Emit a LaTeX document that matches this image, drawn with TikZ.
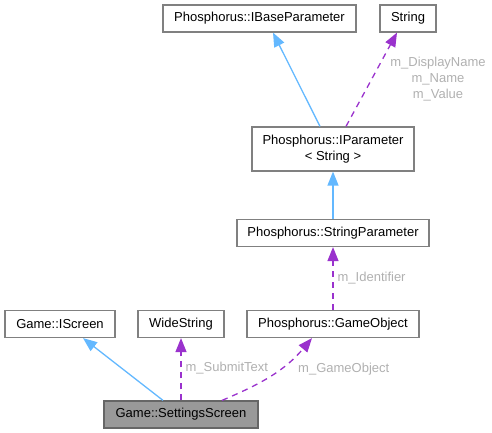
\documentclass[tikz,border=0pt]{standalone}
\usepackage{fontspec}
\setmainfont{Liberation Sans}
\usepackage{xcolor}
\usetikzlibrary{arrows.meta}
\definecolor{inhblue}{HTML}{63B8FF}
\definecolor{usepurple}{HTML}{9A32CD}
\definecolor{lblgray}{HTML}{B0B0B0}
\definecolor{boxline}{HTML}{808080}
\definecolor{curfill}{HTML}{999999}
\tikzset{cls/.style={rectangle,draw=boxline,fill=white,line width=1.2pt,inner sep=0pt,minimum height=27pt,align=center,font=\fontsize{13}{16}\selectfont}}
\tikzset{cur/.style={cls,fill=curfill,draw=black!60}}
\tikzset{inh/.style={inhblue,line width=1.3pt,-{Triangle[length=14pt,width=11pt]}}}
\tikzset{usg/.style={usepurple,line width=1.3pt,dash pattern=on 6pt off 5pt,-{Triangle[length=14pt,width=11pt]}}}
\tikzset{lf/.style={lblgray,font=\fontsize{13}{16}\selectfont,inner sep=1pt,align=center}}

\begin{document}
\begin{tikzpicture}[x=1pt,y=-1pt]
\useasboundingbox (0,0) rectangle (492,433);
\node[cls,minimum width=193pt] (IBaseParam) at (259.5,18.5) {Phosphorus::IBaseParameter};
\node[cls,minimum width=56pt] (Str) at (408,18.5) {String};
\node[cls,minimum width=162pt,minimum height=44pt] (IParam) at (333,149) {Phosphorus::IParameter\\{}< String >};
\node[cls,minimum width=192pt] (StrParam) at (333,233) {Phosphorus::StringParameter};
\node[cls,minimum width=110pt] (IScreen) at (60,324) {Game::IScreen};
\node[cls,minimum width=86pt] (WStr) at (181,324) {WideString};
\node[cls,minimum width=172pt] (GameObj) at (333,324) {Phosphorus::GameObject};
\node[cur,minimum width=154pt] (Settings) at (181,414.5) {Game::SettingsScreen};
\draw[inh] ([xshift=-13pt]IParam.north) -- ([xshift=13.5pt]IBaseParam.south);
\draw[usg] ([xshift=13pt]IParam.north) -- ([xshift=-11pt]Str.south);
\node[lf] (lblStr) at (438,79) {m\_DisplayName\\m\_Name\\m\_Value};
\draw[inh] (StrParam.north) -- (IParam.south);
\draw[usg] (GameObj.north) -- (StrParam.south) node[lf,midway,anchor=west,xshift=3pt] {m\_Identifier};
\draw[inh] ([xshift=-18pt]Settings.north) -- ([xshift=23pt]IScreen.south);
\draw[usg] (Settings.north) -- (WStr.south) node[lf,midway,anchor=west,xshift=3pt,yshift=1pt] {m\_SubmitText};
\draw[usg] ([xshift=41pt]Settings.north) to[out=23,in=-130] ([xshift=-21pt]GameObj.south);
\node[lf,anchor=west] (lblGO) at (297,369) {m\_GameObject};
\end{tikzpicture}
\end{document}
